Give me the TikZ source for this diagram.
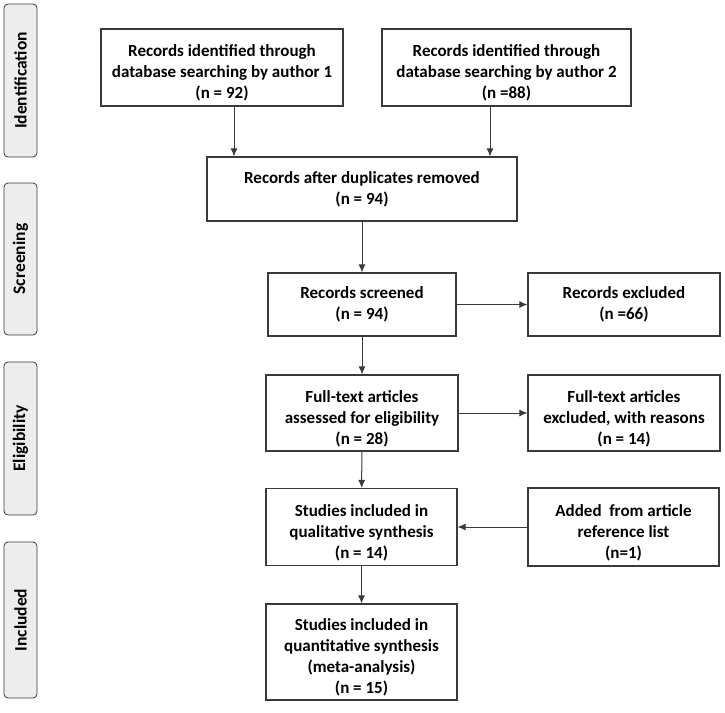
\documentclass[tikz,border=0pt]{standalone}
\usepackage{fontspec}
\setmainfont{Carlito}
\usetikzlibrary{arrows.meta}
\definecolor{edge}{HTML}{3A3A3A}
\definecolor{phasefill}{HTML}{EDEDED}
\newcommand{\dn}{\rule{0pt}{23pt}}
\begin{document}
\begin{tikzpicture}[x=1pt,y=-1pt,
  box/.style={rectangle,draw=edge,line width=1.1pt,align=center,inner sep=2pt,
    font=\fontsize{17}{21}\selectfont\bfseries},
  phase/.style={rectangle,draw=edge,fill=phasefill,rounded corners=4pt,line width=0.8pt,
    minimum width=33pt,rotate=90,font=\fontsize{17.5}{20}\selectfont\bfseries},
  arr/.style={-{Latex[length=8pt,width=7pt]},draw=edge,line width=1pt}]
\useasboundingbox (0,0) rectangle (725,712);
\node[phase,minimum width=153pt,minimum height=33pt] (ident) at (20.5,80.5) {Identification};
\node[phase,minimum width=152pt,minimum height=33pt] (screen) at (20.5,259) {Screening};
\node[phase,minimum width=153pt,minimum height=33pt] (elig) at (20.5,438.5) {Eligibility};
\node[phase,minimum width=156pt,minimum height=33pt] (incl) at (20.5,620) {Included};
\node[box,minimum width=242pt,minimum height=77pt] (auth1) at (222,67.5) {\dn Records identified through\\database searching by author 1\\(n = 92)};
\node[box,minimum width=249pt,minimum height=77pt] (auth2) at (506.5,67.5) {\dn Records identified through\\database searching by author 2\\(n =88)};
\node[box,minimum width=310pt,minimum height=64pt] (dup) at (362,189) {Records after duplicates removed\\(n = 94)};
\node[box,minimum width=188pt,minimum height=63pt] (screened) at (362,304.5) {Records screened\\(n = 94)};
\node[box,minimum width=192pt,minimum height=63pt] (excl) at (624,304.5) {Records excluded\\(n =66)};
\node[box,minimum width=192pt,minimum height=76pt] (full) at (362,413) {\dn Full-text articles\\assessed for eligibility\\(n = 28)};
\node[box,minimum width=192pt,minimum height=76pt] (fullex) at (624,413) {\dn Full-text articles\\excluded, with reasons\\(n = 14)};
\node[box,minimum width=191pt,minimum height=77pt] (qual) at (361.5,527) {\dn Studies included in\\qualitative synthesis\\(n = 14)};
\node[box,minimum width=191pt,minimum height=78pt] (added) at (623.5,527) {\dn Added~ from article\\reference list\\(n=1)};
\node[box,minimum width=191pt,minimum height=96pt] (quant) at (361.5,652) {\dn Studies included in\\quantitative synthesis\\(meta-analysis)\\(n = 15)};
\draw[arr] ([xshift=12pt]auth1.south) -- ([xshift=12pt]auth1.south |- dup.north);
\draw[arr] ([xshift=-16.5pt]auth2.south) -- ([xshift=-16.5pt]auth2.south |- dup.north);
\draw[arr] (dup) -- (screened);
\draw[arr] (screened) -- (excl);
\draw[arr] (screened) -- (full);
\draw[arr] (full) -- (fullex);
\draw[arr] (full) -- (qual);
\draw[arr] (added) -- (qual);
\draw[arr] (qual) -- (quant);
\end{tikzpicture}
\end{document}
